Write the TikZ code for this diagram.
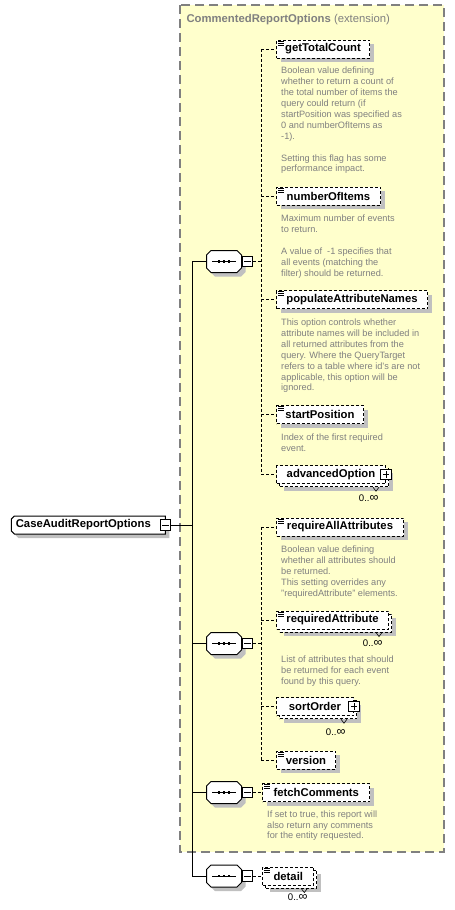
\documentclass[tikz,border=0pt]{standalone}
\usepackage{fontspec}
\setmainfont{Liberation Sans}
\usetikzlibrary{shadows,positioning}
\definecolor{extfill}{RGB}{255,255,204}
\definecolor{extline}{RGB}{128,128,128}
\definecolor{shadegray}{RGB}{192,192,192}
\definecolor{descgray}{RGB}{128,128,128}

\begin{document}
\begin{tikzpicture}[x=1pt,y=-1pt,line width=1pt,
  lbl/.style={font=\fontsize{11.3}{13}\selectfont\bfseries},
  boxshadow/.style={general shadow={fill=shadegray,shadow xshift=4pt,shadow yshift=-4pt}},
  box/.style={draw,dash pattern=on 3pt off 2pt,fill=white,anchor=west,inner sep=0pt,minimum height=18pt,lbl},
  elem/.style={box,boxshadow},
  back/.style={box,boxshadow},
  simple/.style={path picture={
    \foreach \k in {1,3,5}
      \draw[solid,line width=0.9pt] ([shift={(1.5pt,-\k pt)}]path picture bounding box.north west) -- ++(6pt,0pt);}},
  minus/.style={draw,solid,fill=white,minimum size=10.5pt,inner sep=0pt,
    path picture={\draw[solid] ([xshift=2pt]path picture bounding box.west) -- ([xshift=-2pt]path picture bounding box.east);}},
  plus/.style={draw,solid,fill=white,minimum size=10.5pt,inner sep=0pt,
    path picture={\draw[solid] ([xshift=2pt]path picture bounding box.west) -- ([xshift=-2pt]path picture bounding box.east);
      \draw[solid] ([yshift=-2pt]path picture bounding box.north) -- ([yshift=2pt]path picture bounding box.south);}},
  seq/.style={inner sep=0pt,minimum width=34pt,minimum height=21pt},
  octcut/.style={insert path={([xshift=4.5pt]#1.north west) -- ([xshift=-4.5pt]#1.north east)
    -- ([yshift=-4.5pt]#1.north east) -- ([yshift=4.5pt]#1.south east) -- ([xshift=-4.5pt]#1.south east)
    -- ([xshift=4.5pt]#1.south west) -- ([yshift=4.5pt]#1.south west) -- ([yshift=-4.5pt]#1.north west) -- cycle}},
  rootcut/.style={insert path={([xshift=3pt]#1.north west) -- (#1.north east) -- (#1.south east)
    -- ([xshift=3pt]#1.south west) -- ([yshift=3pt]#1.south west) -- ([yshift=-3pt]#1.north west) -- cycle}},
  shadowed/.style={fill=shadegray,transform canvas={shift={(4pt,-4pt)}}},
  desc/.style={anchor=north west,inner sep=0pt,align=left,text=descgray,font=\fontsize{9.2}{10.9}\selectfont},
  mult/.style={anchor=east,inner sep=0pt,font=\fontsize{9.6}{10.9}\selectfont},
  link/.style={dash pattern=on 3pt off 2pt}]

\useasboundingbox (0,0) rectangle (455,910);
\fill[white] (0,0) rectangle (455,910);
\draw[extline,fill=extfill,line width=1.2pt,dash pattern=on 9pt off 5pt] (180,5) rectangle (444,852);
\node[anchor=base west,inner sep=0pt,text=extline,font=\fontsize{11.3}{13}\selectfont] (title) at (186,23) {\textbf{CommentedReportOptions} (extension)};

\node[inner sep=0pt,minimum width=153pt,minimum height=17pt] (rootf) at (88.3,525) {};
\fill[shadowed,rootcut=rootf];
\draw[fill=white,rootcut=rootf];
\node[lbl,inner sep=0pt] (root) at ([xshift=-5pt]rootf.center) {CaseAuditReportOptions};
\node[minus] (rootm) at (rootf.east) {};

\node[seq] (s1) at (224,261.5) {};
\node[seq] (s2) at (224,643.5) {};
\node[seq] (s3) at (224,792.5) {};
\node[seq] (s4) at (224,876) {};
\foreach \s in {s1,s2,s3,s4} {
  \fill[shadowed,octcut=\s];
  \draw[fill=white,octcut=\s];
  \draw ([xshift=-12pt]\s.center) -- ([xshift=12pt]\s.center);
  \foreach \d in {-5,0,5}
    \fill ([shift={(\d pt-1.3pt,-1.3pt)}]\s.center) rectangle ++(2.6pt,2.6pt);
}
\node[minus,anchor=west] (m1) at (s1.east) {};
\node[minus,anchor=west] (m2) at (s2.east) {};
\node[minus,anchor=west] (m3) at (s3.east) {};
\node[minus,anchor=west] (m4) at (s4.east) {};

\coordinate (bus) at (192,0);
\draw (rootm.east) -- (rootm.east -| bus);
\draw (s1.west) -- (s1.west -| bus) -- (s4.west -| bus) -- (s4.west);
\draw (s2.west) -- (s2.west -| bus);
\draw (s3.west) -- (s3.west -| bus);

\node[elem,simple,minimum width=93pt] (gtc) at (276,49) {getTotalCount};
\node[desc] (gtcd) at (280.7,65.7) {\strut Boolean value defining\\ whether to return a count of\\ the total number of items the\\ query could return (if\\ startPosition was specified as\\ 0 and numberOfItems as\\ -1).\\[10.9pt] Setting this flag has some\\ performance impact.};
\node[elem,simple,minimum width=104pt] (noi) at (276,196) {numberOfItems};
\node[desc] (noid) at (280.7,213.4) {\strut Maximum number of events\\ to return.\\[10.9pt] A value of \ -1 specifies that\\ all events (matching the\\ filter) should be returned.};
\node[elem,simple,minimum width=151pt] (pan) at (276,299.5) {populateAttributeNames};
\node[desc] (pand) at (280.7,317.4) {\strut This option controls whether\\ attribute names will be included in\\ all returned attributes from the\\ query. Where the QueryTarget\\ refers to a table where id's are not\\ applicable, this option will be\\ ignored.};
\node[elem,simple,minimum width=87pt] (sp) at (276,414.5) {startPosition};
\node[desc] (spd) at (280.7,432.4) {\strut Index of the first required\\ event.};
\node[back,minimum width=109pt] (advb) at (279,477.7) {};
\node[box,minimum width=109pt] (adv) at (276,474.7) {advancedOption\hspace{3.6pt}};
\node[plus] (advp) at (adv.east) {};
\node[mult] (advn) at (379,497.7) {0..{\fontsize{12.5}{12}\selectfont∞}};

\node[elem,simple,minimum width=127pt] (raa) at (276,527) {requireAllAttributes};
\node[desc] (raad) at (280.7,544.7) {\strut Boolean value defining\\ whether all attributes should\\ be returned.\\ This setting overrides any\\ "requiredAttribute" elements.};
\node[back,minimum width=112pt] (rab) at (279,623) {};
\node[box,simple,minimum width=112pt] (ra) at (276,620) {requiredAttribute};
\node[mult] (ran) at (383,642.7) {0..{\fontsize{12.5}{12}\selectfont∞}};
\node[desc] (rad) at (280.7,654.7) {\strut List of attributes that should\\ be returned for each event\\ found by this query.};
\node[back,minimum width=77pt] (sob) at (279,709.7) {};
\node[box,minimum width=77pt] (so) at (276,706.7) {sortOrder\hspace{4.6pt}};
\node[plus] (sop) at (so.east) {};
\node[mult] (son) at (346,731.7) {0..{\fontsize{12.5}{12}\selectfont∞}};
\node[elem,simple,minimum width=59pt] (ver) at (276,760) {version};

\node[elem,simple,minimum width=107pt] (fc) at (262.3,792.5) {fetchComments};
\node[desc] (fcd) at (266.7,809) {\strut If set to true, this report will\\ also return any comments\\ for the entity requested.};

\node[back,minimum width=51pt] (detb) at (265.3,879) {};
\node[box,simple,minimum width=51pt] (det) at (262.3,876) {detail};
\node[mult] (detn) at (308,896.7) {0..{\fontsize{12.5}{12}\selectfont∞}};

\coordinate (ch) at (261,0);
\draw[link] (m1.east) -- (m1.east -| ch);
\draw[link] (gtc.west -| ch) -- (adv.west -| ch);
\foreach \n in {gtc,noi,pan,sp,adv}
  \draw[link] (\n.west -| ch) -- (\n.west);
\draw[link] (m2.east) -- (m2.east -| ch);
\draw[link] (raa.west -| ch) -- (ver.west -| ch);
\foreach \n in {raa,ra,so,ver}
  \draw[link] (\n.west -| ch) -- (\n.west);
\draw[link] (m3.east) -- (fc.west);
\draw[link] (m4.east) -- (det.west);

\foreach \n in {advb,rab,sob,detb}
  \draw[line width=0.6pt] ([xshift=-16pt]\n.south east) -- ++(3pt,-4pt) -- ++(3pt,4pt);
\end{tikzpicture}
\end{document}
